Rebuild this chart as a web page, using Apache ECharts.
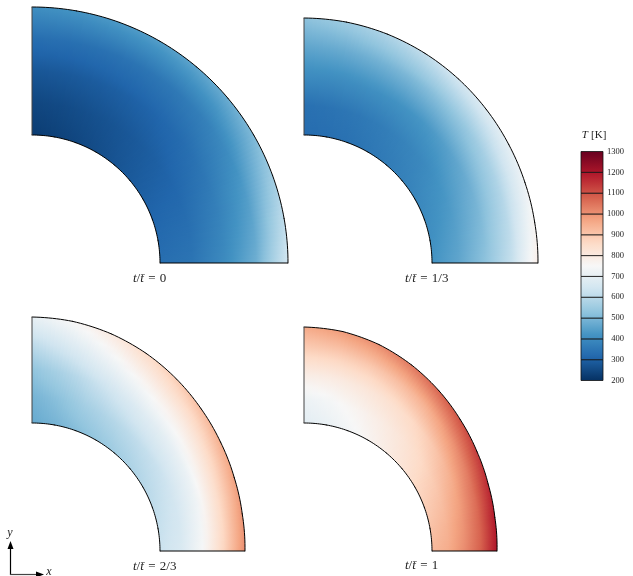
<!doctype html>
<html>
<head>
<meta charset="utf-8">
<title>Temperature field</title>
<style type="text/css">
html, body {
  margin: 0;
  padding: 0;
  background: #fff;
}
#chart {
  width: 633px;
  height: 576px;
}
</style>
<script type="text/javascript" src="https://cdn.jsdelivr.net/npm/echarts@6/dist/echarts.min.js"></script>
</head>
<body>
<div id="chart"></div>
<script type="text/javascript">
// node angles (deg) and radial fractions between inner and outer edge
var angles = [0, 10, 20, 30, 40, 50, 60, 70, 80, 90];
var radialFractions = [0, 0.25, 0.5, 0.75, 1];

// outer radius (inner radius = 1) for each angle
var outerR0 = [2, 2, 2, 2, 2, 2, 2, 2, 2, 2];
var outerR1 = [1.828, 1.830, 1.837, 1.848, 1.862, 1.877, 1.891, 1.903, 1.911, 1.914];
var outerR2 = [1.664, 1.668, 1.681, 1.701, 1.726, 1.755, 1.783, 1.806, 1.822, 1.828];
var outerR3 = [1.508, 1.514, 1.531, 1.559, 1.595, 1.637, 1.679, 1.716, 1.741, 1.750];

// temperature [K], one row per angle, inner -> outer
var temp0 = [
  [330, 345, 400, 480, 650],
  [320, 335, 385, 458, 610],
  [310, 322, 365, 432, 555],
  [298, 308, 342, 400, 505],
  [285, 295, 322, 372, 475],
  [272, 283, 308, 355, 458],
  [258, 272, 298, 345, 445],
  [245, 262, 290, 338, 435],
  [235, 252, 283, 333, 422],
  [225, 245, 278, 330, 410]
];
var temp1 = [
  [420, 460, 525, 620, 790],
  [410, 450, 510, 605, 760],
  [400, 435, 490, 585, 725],
  [388, 418, 468, 565, 700],
  [375, 395, 445, 540, 675],
  [362, 380, 425, 520, 650],
  [350, 365, 415, 500, 615],
  [338, 352, 408, 485, 580],
  [330, 342, 402, 470, 550],
  [325, 335, 400, 460, 525]
];
var temp2 = [
  [630, 665, 745, 870, 1010],
  [620, 655, 735, 860, 995],
  [608, 645, 722, 845, 975],
  [592, 632, 710, 825, 950],
  [575, 620, 697, 800, 920],
  [555, 605, 682, 780, 890],
  [535, 585, 655, 750, 850],
  [512, 560, 620, 710, 800],
  [490, 522, 575, 660, 750],
  [470, 490, 530, 610, 705]
];
var temp3 = [
  [930, 955, 1010, 1080, 1200],
  [910, 940, 995, 1070, 1190],
  [885, 915, 970, 1050, 1165],
  [860, 885, 935, 1020, 1135],
  [825, 850, 895, 985, 1100],
  [795, 818, 860, 945, 1070],
  [765, 790, 835, 920, 1040],
  [735, 765, 815, 900, 1010],
  [710, 740, 800, 888, 985],
  [690, 720, 790, 880, 960]
];

var panelLabels = ['0', '1/3', '2/3', '1'];
var cbarTicks = [200, 300, 400, 500, 600, 700, 800, 900, 1000, 1100, 1200, 1300];

// RdBu reversed
var cmapColors = ['#053061', '#2166ac', '#4393c3', '#92c5de', '#d1e5f0', '#f7f7f7',
                  '#fddbc7', '#f4a582', '#d6604d', '#b2182b', '#67001f'];
var tMin = 200, tMax = 1300;

function hexRgb(h) {
  return [parseInt(h.substr(1, 2), 16), parseInt(h.substr(3, 2), 16), parseInt(h.substr(5, 2), 16)];
}
var cmapRgb = cmapColors.map(hexRgb);

function tempColor(T) {
  var t = (T - tMin) / (tMax - tMin);
  t = Math.max(0, Math.min(1, t)) * (cmapRgb.length - 1);
  var i = Math.min(Math.floor(t), cmapRgb.length - 2);
  var f = t - i;
  var a = cmapRgb[i], b = cmapRgb[i + 1];
  return 'rgb(' + Math.round(a[0] + (b[0] - a[0]) * f) + ',' +
    Math.round(a[1] + (b[1] - a[1]) * f) + ',' + Math.round(a[2] + (b[2] - a[2]) * f) + ')';
}

var panels = [
  { center: [32, 263], outer: outerR0, temp: temp0, label: [133, 279] },
  { center: [304, 263], outer: outerR1, temp: temp1, label: [405, 279] },
  { center: [32, 551], outer: outerR2, temp: temp2, label: [133, 567] },
  { center: [304, 551], outer: outerR3, temp: temp3, label: [405, 566] }
];

var SUB = 10;     // sub-strips per segment (shading only)
var RSUB = 4;     // gradient stops per radial interval
var OVERLAP = 0.4; // deg, hides seams between sub-strips

function readNode(api, idx) {
  var T = [];
  for (var s = 0; s < radialFractions.length; s++) T.push(api.value(2 + s, idx));
  return { R: api.value(0, idx), a: api.value(1, idx), T: T };
}

function renderField(params, api) {
  var i = params.dataIndexInside;
  if (i >= angles.length - 1) return;
  var n0 = readNode(api, i), n1 = readNode(api, i + 1);
  var c = api.coord([0, 0]);
  var e = api.coord([1, 0]);
  var unit = Math.sqrt((e[0] - c[0]) * (e[0] - c[0]) + (e[1] - c[1]) * (e[1] - c[1]));
  var last = (i === angles.length - 2);
  var children = [];
  for (var k = 0; k < SUB; k++) {
    var f0 = k / SUB, f1 = (k + 1) / SUB, fm = (k + 0.5) / SUB;
    var a0 = n0.a + (n1.a - n0.a) * f0, a1 = n0.a + (n1.a - n0.a) * f1;
    if (!(last && k === SUB - 1)) a1 += OVERLAP;
    var R0 = n0.R + (n1.R - n0.R) * f0, R1 = n0.R + (n1.R - n0.R) * f1;
    var Rm = n0.R + (n1.R - n0.R) * fm;
    var pts = [api.coord([1, a0]), api.coord([R0, a0]), api.coord([R1, a1]), api.coord([1, a1])];
    var stops = [];
    for (var s = 0; s < radialFractions.length - 1; s++) {
      var Ta = n0.T[s] + (n1.T[s] - n0.T[s]) * fm;
      var Tb = n0.T[s + 1] + (n1.T[s + 1] - n0.T[s + 1]) * fm;
      var sa = radialFractions[s], sb = radialFractions[s + 1];
      for (var q = 0; q <= RSUB; q++) {
        if (s > 0 && q === 0) continue;
        var g = q / RSUB;
        var rr = 1 + (sa + (sb - sa) * g) * (Rm - 1);
        stops.push({ offset: Math.min(1, rr / Rm), color: tempColor(Ta + (Tb - Ta) * g) });
      }
    }
    var grad = new echarts.graphic.RadialGradient(c[0], c[1], Rm * unit, stops, true);
    children.push({
      type: 'polygon',
      shape: { points: pts },
      style: { fill: grad }
    });
  }
  return { type: 'group', children: children };
}

function renderOutline(params, api) {
  var i = params.dataIndexInside;
  var children = [];
  var n0 = readNode(api, i);
  if (i === 0) {
    children.push({ type: 'polyline', shape: { points: [api.coord([1, n0.a]), api.coord([n0.R, n0.a])] },
      style: { stroke: '#000', lineWidth: 1, fill: null } });
  }
  if (i === angles.length - 1) {
    children.push({ type: 'polyline', shape: { points: [api.coord([1, n0.a]), api.coord([n0.R, n0.a])] },
      style: { stroke: '#444', lineWidth: 1, fill: null } });
    return { type: 'group', children: children };
  }
  var n1 = readNode(api, i + 1);
  var outer = [], inner = [];
  for (var k = 0; k <= SUB; k++) {
    var f = k / SUB;
    var a = n0.a + (n1.a - n0.a) * f;
    outer.push(api.coord([n0.R + (n1.R - n0.R) * f, a]));
    inner.push(api.coord([1, a]));
  }
  children.push({ type: 'polyline', shape: { points: outer }, style: { stroke: '#000', lineWidth: 1, fill: null, lineCap: 'round' } });
  children.push({ type: 'polyline', shape: { points: inner }, style: { stroke: '#000', lineWidth: 1, fill: null, lineCap: 'round' } });
  return { type: 'group', children: children };
}

function renderCbar(params, api) {
  var lo = api.value(0), hi = api.value(1);
  var p0 = api.coord([0, lo]), p1 = api.coord([1, hi]);
  var stops = [];
  for (var q = 0; q <= 4; q++) {
    stops.push({ offset: q / 4, color: tempColor(lo + (hi - lo) * q / 4) });
  }
  return {
    type: 'rect',
    shape: { x: p0[0], y: p1[1], width: p1[0] - p0[0], height: p0[1] - p1[1] },
    style: {
      fill: new echarts.graphic.LinearGradient(0, 1, 0, 0, stops),
      stroke: '#111', lineWidth: 0.8
    }
  };
}

var serifFont = '"Liberation Serif", "DejaVu Serif", serif';

var polar = [], angleAxis = [], radiusAxis = [], series = [], graphic = [];
panels.forEach(function (p, i) {
  polar.push({ center: p.center, radius: 256 });
  angleAxis.push({ polarIndex: i, type: 'value', min: 0, max: 360, startAngle: 0, clockwise: false, show: false });
  radiusAxis.push({ polarIndex: i, type: 'value', min: 0, max: 2, show: false });
  var data = angles.map(function (a, j) {
    return [p.outer[j], a].concat(p.temp[j]);
  });
  series.push({
    type: 'custom', coordinateSystem: 'polar', polarIndex: i, z: 2,
    silent: true, renderItem: renderField, data: data
  });
  series.push({
    type: 'custom', coordinateSystem: 'polar', polarIndex: i, z: 3,
    silent: true, renderItem: renderOutline, data: data
  });
  graphic.push({
    type: 'text', x: p.label[0], y: p.label[1],
    style: {
      text: '{i|t}{n|/}{i|t\u0304}{n|\u2004=\u2004' + panelLabels[i] + '}',
      verticalAlign: 'middle', align: 'left', fill: '#222',
      rich: {
        i: { fontStyle: 'italic', fontFamily: serifFont, fontSize: 13, fill: '#222' },
        n: { fontFamily: serifFont, fontSize: 13, fill: '#222' }
      }
    }
  });
});

series.push({
  type: 'custom', coordinateSystem: 'cartesian2d', xAxisIndex: 0, yAxisIndex: 0,
  silent: true, renderItem: renderCbar,
  data: cbarTicks.slice(0, -1).map(function (v, j) { return [v, cbarTicks[j + 1]]; })
});

// colorbar title and xy arrows
graphic.push({
  type: 'text', x: 594, y: 135,
  style: {
    text: '{i|T} {n|[K]}', align: 'center', verticalAlign: 'middle',
    rich: {
      i: { fontStyle: 'italic', fontFamily: serifFont, fontSize: 11, fill: '#222' },
      n: { fontFamily: serifFont, fontSize: 11, fill: '#222' }
    }
  }
});
graphic.push({ type: 'line', shape: { x1: 10.5, y1: 575, x2: 10.5, y2: 547 }, style: { stroke: '#000', lineWidth: 1.2 } });
graphic.push({ type: 'polygon', shape: { points: [[10.5, 541], [7.5, 549], [13.5, 549]] }, style: { fill: '#000' } });
graphic.push({ type: 'line', shape: { x1: 10, y1: 574.5, x2: 38, y2: 574.5 }, style: { stroke: '#444', lineWidth: 1.2 } });
graphic.push({ type: 'polygon', shape: { points: [[44, 574.5], [36, 571.5], [36, 577.5]] }, style: { fill: '#000' } });
graphic.push({
  type: 'text', x: 10, y: 533,
  style: { text: 'y', align: 'center', verticalAlign: 'middle', fontStyle: 'italic', fontFamily: serifFont, fontSize: 12, fill: '#222' }
});
graphic.push({
  type: 'text', x: 49, y: 572,
  style: { text: 'x', align: 'center', verticalAlign: 'middle', fontStyle: 'italic', fontFamily: serifFont, fontSize: 12, fill: '#222' }
});

var myChart = echarts.init(document.getElementById('chart'), null, { renderer: 'canvas' });
var option = {
  backgroundColor: '#fff',
  animation: false,
  polar: polar,
  angleAxis: angleAxis,
  radiusAxis: radiusAxis,
  grid: { left: 581, top: 151.5, width: 22, height: 229 },
  xAxis: { type: 'value', min: 0, max: 1, show: false },
  yAxis: {
    type: 'value', position: 'right', min: 200, max: 1300, interval: 100,
    axisLine: { show: false }, axisTick: { show: false }, splitLine: { show: false },
    axisLabel: {
      margin: 21, align: 'right', fontFamily: serifFont, fontSize: 8.5, color: '#222',
      formatter: function (v) { return String(v); }
    }
  },
  graphic: graphic,
  series: series
};
myChart.setOption(option);
</script>
</body>
</html>
